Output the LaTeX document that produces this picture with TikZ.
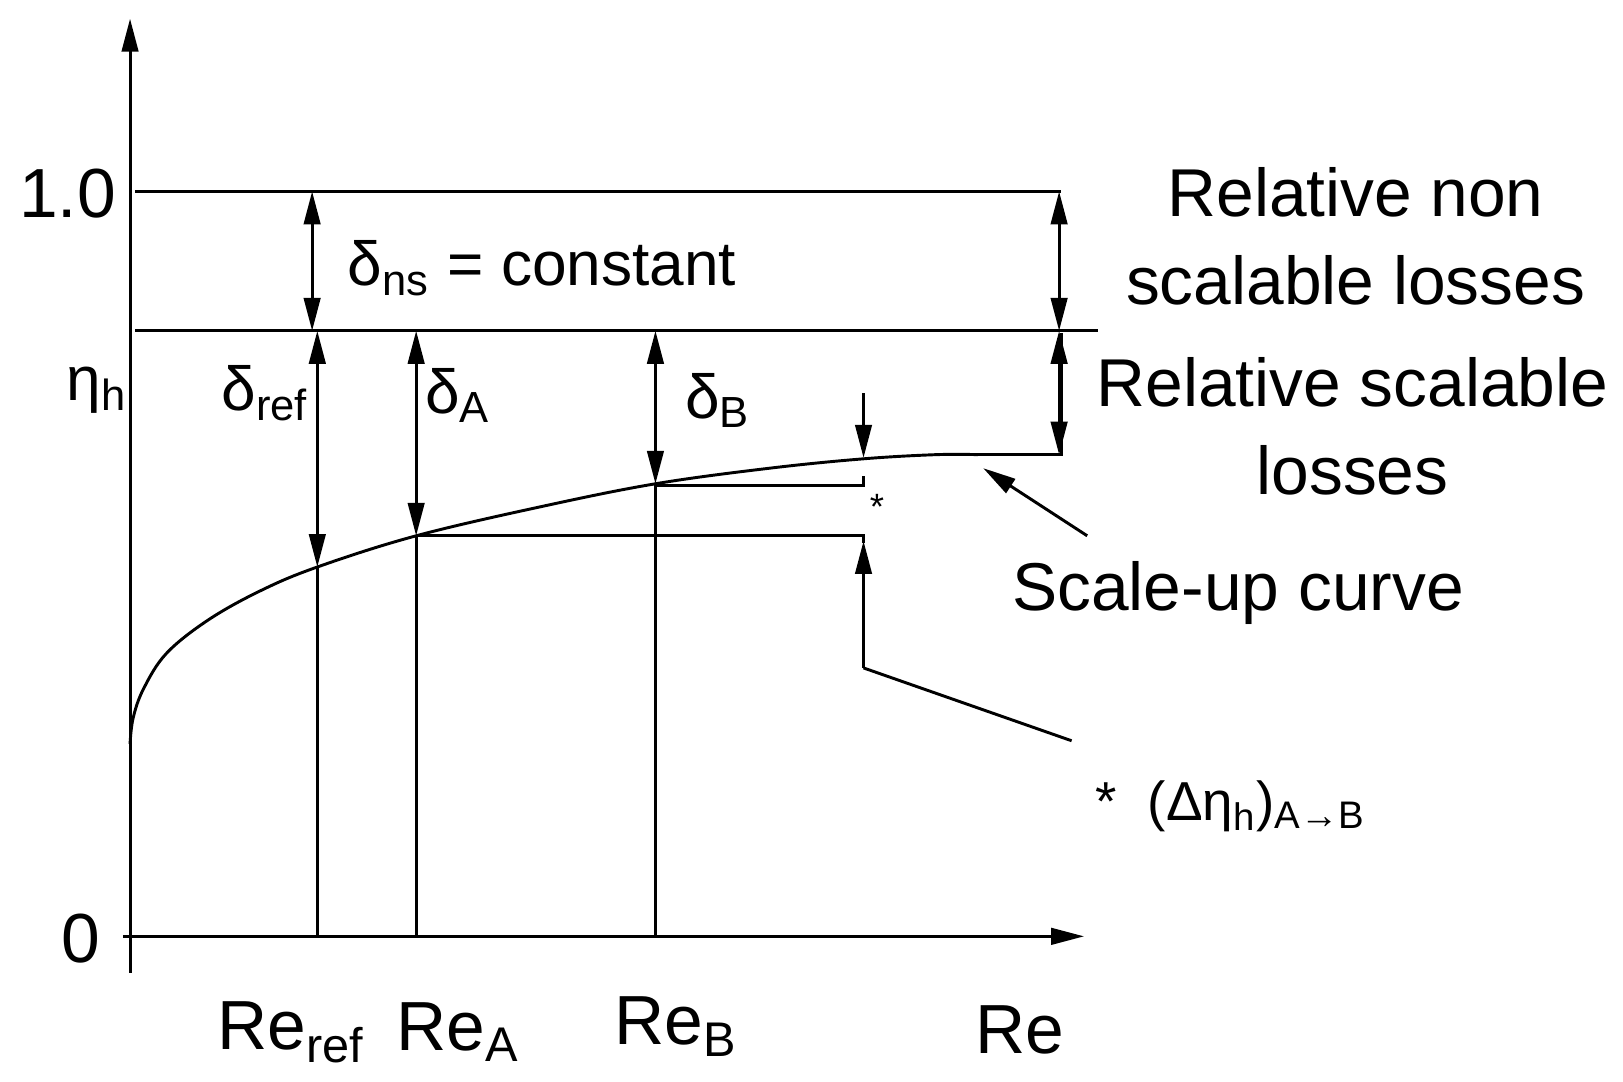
\documentclass[tikz,border=0pt]{standalone}
\usepackage{fontspec}
\setmainfont{Liberation Sans}
\usetikzlibrary{arrows.meta}
\begin{document}
\begin{tikzpicture}[x=0.01cm,y=-0.01cm,line width=0.8pt,
  tip/.style={-{Triangle[length=9pt,width=4.5pt]}},
  dbl/.style={{Triangle[length=9pt,width=4.5pt]}-{Triangle[length=9pt,width=4.5pt]}},
  lbl/.style={font=\fontsize{17}{20}\selectfont, inner sep=0pt},
  ax/.style={font=\fontsize{19}{22}\selectfont, inner sep=0pt},
  big/.style={font=\fontsize{18.5}{24}\selectfont, align=center, inner sep=0pt}]
\useasboundingbox (0,0) rectangle (1560,1040);
% axes
\coordinate (O) at (125,900);
\coordinate (Ytop) at (125,18);
\coordinate (Xend) at (1042,900);
\draw[tip] (118,900) -- (Xend);
\draw[tip] (125,935) -- (Ytop);
% horizontal lines
\draw (130,184) -- (1020,184);
\draw (130,318) -- (1055,318);
% curve
\draw plot[smooth,tension=0.6] coordinates {(125,715) (128,690) (138,662) (160,628) (200,596) (250,568) (305,545) (400,515) (520,487) (630,465) (740,450) (830,441) (900,437) (940,437)};
\draw (940,437) -- (1020,437) -- (1020,320);
% verticals
\draw (305,900) -- (305,545);
\draw (400,900) -- (400,515);
\draw (630,900) -- (630,465);
\draw[dbl] (300,184) -- (300,318);
\draw[dbl] (305,318) -- (305,545);
\draw[dbl] (400,318) -- (400,515);
\draw[dbl] (630,318) -- (630,465);
\draw[dbl] (1018,184) -- (1018,318);
\draw[dbl] (1018,318) -- (1018,437);
% delta eta indicator
\draw (630,467) -- (830,467) -- (830,458);
\draw (400,515) -- (830,515) -- (830,522);
\draw[tip] (830,378) -- (830,440);
\coordinate (K) at (830,642);
\draw[tip] (K) -- (830,520);
\draw (K) -- (1030,712);
\node[inner sep=0pt,font=\fontsize{10}{10}\selectfont] (st) at (843,487) {*};
\draw[tip] (1045,515) -- (945,450);
% labels
\node[ax] (one) at (65,186) {1.0};
\node[ax] (zero) at (78,902) {0};
\node[lbl] (eta) at (93,375) {η\textsubscript{h}};
\node[lbl] (dref) at (255,378) {δ\textsubscript{ref}};
\node[lbl] (dA) at (440,380) {δ\textsubscript{A}};
\node[lbl] (dB) at (690,385) {δ\textsubscript{B}};
\node[lbl,anchor=west] (dns) at (333,258) {δ\textsubscript{ns} = constant};
\node[big] (rnon) at (1303,227) {Relative non\\scalable losses};
\node[big] (rsc) at (1300,410) {Relative scalable\\losses};
\node[big] (scu) at (1190,570) {Scale-up curve};
\node[lbl,anchor=west,font=\fontsize{15}{18}\selectfont] (dq) at (1052,775) {*\ \ (Δη\textsubscript{h})\textsubscript{A→B}};
\node[ax] (rref) at (280,992) {Re\textsubscript{ref}};
\node[ax] (rA) at (440,992) {Re\textsubscript{A}};
\node[ax] (rB) at (650,987) {Re\textsubscript{B}};
\node[ax] (re) at (980,990) {Re};
\end{tikzpicture}
\end{document}
